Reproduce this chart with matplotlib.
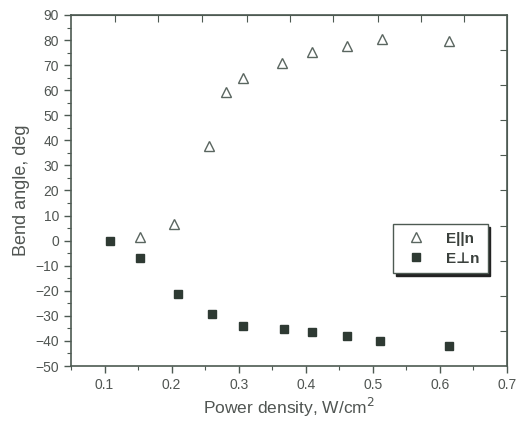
import numpy as np
import matplotlib
matplotlib.use('Agg')
import matplotlib.pyplot as plt
from matplotlib.ticker import MultipleLocator, FixedLocator

plt.rcParams['font.family'] = ['Liberation Sans', 'DejaVu Sans']

# data
x_par = [0.153, 0.203, 0.255, 0.281, 0.306, 0.364, 0.409, 0.461, 0.513, 0.614]
y_par = [1.6, 6.7, 37.8, 59.3, 64.9, 70.9, 75.3, 77.7, 80.4, 79.6]
x_perp = [0.108, 0.153, 0.209, 0.260, 0.306, 0.367, 0.409, 0.461, 0.511, 0.613]
y_perp = [0.0, -6.8, -21.2, -29.1, -33.9, -35.1, -36.3, -37.9, -39.9, -41.9]

axis_col = '#4d5a52'
mark_col = '#2e3a33'
text_col = '#505552'

fig = plt.figure(figsize=(5.17, 4.22), dpi=100)
ax = fig.add_axes([71/517, 1 - 366/422, (507 - 71)/517, (366 - 15)/422])

ax.plot(x_par, y_par, linestyle='none', marker='^', markersize=7,
        markerfacecolor='white', markeredgecolor='#5a6660', markeredgewidth=1.0,
        label='E||n')
ax.plot(x_perp, y_perp, linestyle='none', marker='s', markersize=6,
        markerfacecolor=mark_col, markeredgecolor=mark_col, label='E\u22a5n')

ax.set_xlim(0.05, 0.7)
ax.set_ylim(-50, 90)
ax.xaxis.set_major_locator(MultipleLocator(0.1))
ax.xaxis.set_minor_locator(MultipleLocator(0.05))
ax.yaxis.set_major_locator(MultipleLocator(10))
ax.yaxis.set_minor_locator(MultipleLocator(5))
ax.set_xticks([0.1, 0.2, 0.3, 0.4, 0.5, 0.6, 0.7])

ax.tick_params(which='both', direction='out', colors=axis_col, labelcolor=text_col,
               labelsize=10, top=False, right=False)
ax.tick_params(which='major', length=5, width=1)
ax.tick_params(which='minor', length=3, width=0.8)
for s in ax.spines.values():
    s.set_color(axis_col)
    s.set_linewidth(1.2)

# top and right ticks of the original scan sit on their own spacing
top = ax.secondary_xaxis('top')
top.xaxis.set_major_locator(FixedLocator([0.1155, 0.179, 0.245, 0.312, 0.376,
                                          0.440, 0.507, 0.572, 0.636]))
top.tick_params(direction='in', length=5, colors=axis_col, labelsize=0, labeltop=False)
top.spines['top'].set_color(axis_col)
right = ax.secondary_yaxis('right')
right.yaxis.set_major_locator(FixedLocator([76, 62, 48, 34, 20, 6, -8, -22, -36]))
right.tick_params(direction='in', length=5, colors=axis_col, labelsize=0, labelright=False)
right.spines['right'].set_color(axis_col)

ax.set_xlabel('Power density, W/cm$^2$', fontsize=12.5, color=text_col, labelpad=3)
ax.set_ylabel('Bend angle, deg', fontsize=13, color=text_col, labelpad=4)

leg = ax.legend(loc='upper left', bbox_to_anchor=(322/436, 1 - (224 - 15)/351),
                borderaxespad=0, frameon=True, fancybox=False,
                shadow={'color': '#222', 'alpha': 1},
                prop={'weight': 'bold', 'size': 11}, handletextpad=1.0,
                borderpad=0.5, labelspacing=0.4, markerfirst=True)
leg.get_frame().set_edgecolor(axis_col)
leg.get_frame().set_linewidth(1.0)
for t in leg.get_texts():
    t.set_color('#3a403c')

fig.savefig('out.png', dpi=100)
